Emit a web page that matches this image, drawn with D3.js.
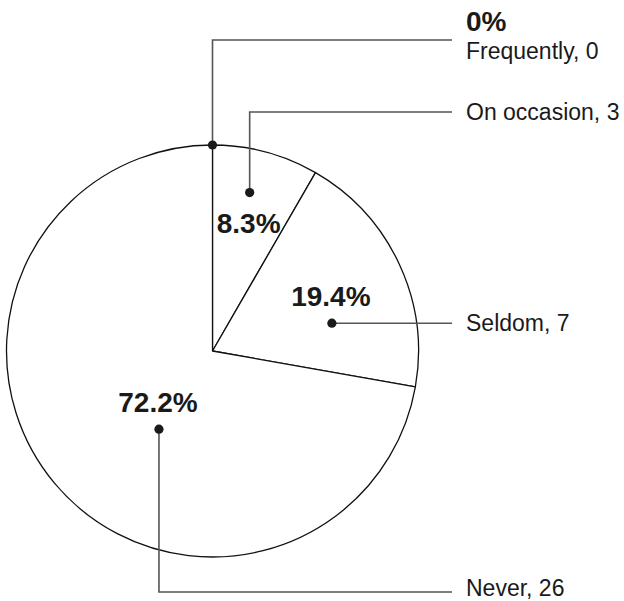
<!DOCTYPE html>
<html>
<head>
<meta charset="utf-8">
<script src="https://cdn.jsdelivr.net/npm/d3@7"></script>
<style>
  html, body { margin: 0; padding: 0; background: #fff; }
  svg { display: block; }
  text { font-family: "Liberation Sans", Arial, Helvetica, sans-serif; fill: #1a1a1a; }
</style>
</head>
<body>
<svg id="chart" width="624" height="601"></svg>
<script>
// Responses and their counts
const categories = ["Frequently", "On occasion", "Seldom", "Never"];
const counts = [0, 3, 7, 26];
const percentLabels = ["0%", "8.3%", "19.4%", "72.2%"];

const W = 624, H = 601;
const cx = 212.5, cy = 351, radius = 206;
const labelLineEnd = 452, labelX = 466;

// Where each leader dot sits inside its slice (share of slice angle, share of radius)
// and the height of the elbow that carries it to the right-hand label.
const dotPlacement = [
  { angleFrac: 0.0,  radiusFrac: 1.0,   labelY: 40 },
  { angleFrac: 0.44, radiusFrac: 0.79,  labelY: 112 },
  { angleFrac: 0.67, radiusFrac: 0.595, labelY: null },
  { angleFrac: 0.44, radiusFrac: 0.46,  labelY: 592 }
];

const data = categories.map((c, i) => ({ category: c, count: counts[i], pct: percentLabels[i] }));

const svg = d3.select("#chart");
const g = svg.append("g").attr("transform", `translate(${cx},${cy})`);

const pie = d3.pie().value(d => d.count).sort(null);
const arcs = pie(data);
const arc = d3.arc().innerRadius(0).outerRadius(radius);

// Slices
g.selectAll("path.slice")
  .data(arcs.filter(a => a.data.count > 0))
  .join("path")
  .attr("class", "slice")
  .attr("d", arc)
  .attr("fill", "#fff")
  .attr("stroke", "#111")
  .attr("stroke-width", 1.3)
  .attr("stroke-linejoin", "round");

// Dot position in chart coordinates
function dotPos(a, i) {
  const p = dotPlacement[i];
  const ang = a.startAngle + (a.endAngle - a.startAngle) * p.angleFrac;
  const r = radius * p.radiusFrac;
  return [cx + r * Math.sin(ang), cy - r * Math.cos(ang)];
}

const leaders = svg.append("g");
const fs = 23, fsBold = 28;

arcs.forEach((a, i) => {
  const [dx, dy] = dotPos(a, i);
  const ly = dotPlacement[i].labelY == null ? dy : dotPlacement[i].labelY;

  // Leader line: vertical to the label row, then across to the label
  const path = d3.path();
  path.moveTo(dx, dy);
  if (ly !== dy) path.lineTo(dx, ly);
  path.lineTo(labelLineEnd, ly);
  leaders.append("path")
    .attr("d", path.toString())
    .attr("fill", "none")
    .attr("stroke", "#555")
    .attr("stroke-width", 1.6);

  leaders.append("circle")
    .attr("cx", dx).attr("cy", dy).attr("r", 4.6)
    .attr("fill", "#1a1a1a");

  if (a.data.count === 0) {
    // Empty slice: percentage stacked above its category label
    leaders.append("text")
      .attr("x", labelX).attr("y", ly - 9)
      .attr("font-size", fsBold).attr("font-weight", "bold")
      .text(a.data.pct);
    leaders.append("text")
      .attr("x", labelX).attr("y", ly + 19)
      .attr("font-size", fs)
      .text(`${a.data.category}, ${a.data.count}`);
  } else {
    // Keep the bottom label's descenders inside the canvas
    const baseY = Math.min(ly + fs * 0.36, H - 5);
    leaders.append("text")
      .attr("x", labelX).attr("y", baseY)
      .attr("font-size", fs)
      .text(`${a.data.category}, ${a.data.count}`);
    // Percentage sits below the dot when the leader rises, otherwise above it
    const below = dotPlacement[i].labelY != null && dotPlacement[i].labelY < dy;
    leaders.append("text")
      .attr("x", dx - 1).attr("y", below ? dy + 40 : dy - 17)
      .attr("text-anchor", "middle")
      .attr("font-size", fsBold).attr("font-weight", "bold")
      .text(a.data.pct);
  }
});
</script>
</body>
</html>
